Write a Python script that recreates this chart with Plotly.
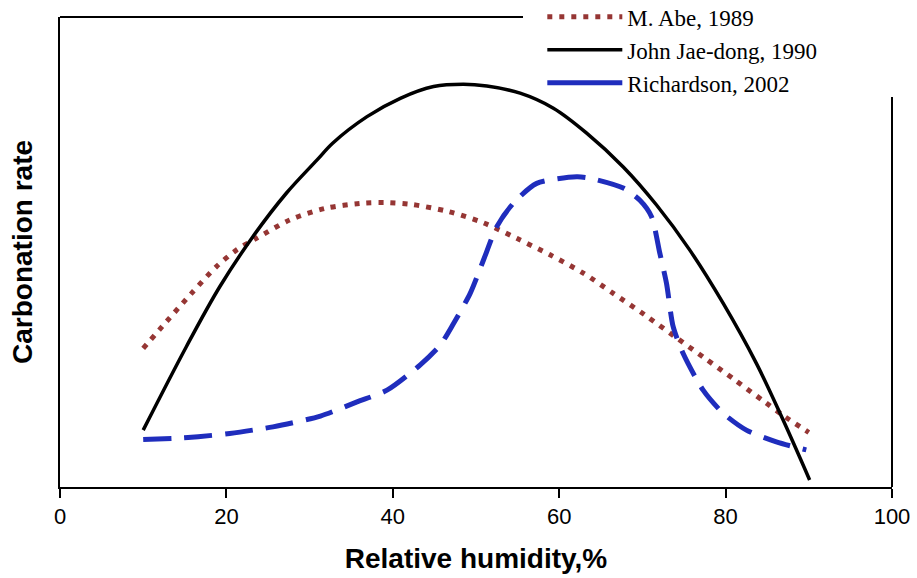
import plotly.graph_objects as go

# Relative humidity (%) and carbonation rate (relative units, 0-100)
abe_x = [10, 12.8, 15.8, 18.8, 21.2, 23.6, 27.6, 31.9, 36.5, 39.3, 42.3, 46.7, 50.9, 54.9,
         58.9, 62.9, 66.5, 70.3, 73.9, 77.5, 81.1, 84.7, 87.1, 90]
abe_y = [29.5, 35.2, 41.2, 46.9, 50.4, 52.9, 56.8, 59.3, 60.4, 60.5, 60.1, 58.6, 56.2, 52.9,
         49.4, 45.5, 41.2, 36.6, 32.0, 27.4, 22.8, 18.1, 15.0, 11.6]

john_x = [10, 15.2, 19.2, 23.2, 27.2, 30.9, 32.8, 36.9, 40.9, 44.9, 48.5, 51.3, 55.3, 59.3,
          63.3, 67.7, 71.7, 75.7, 79.7, 83.7, 86.9, 90.1]
john_y = [12.1, 29.9, 42.6, 53.3, 62.5, 69.6, 73.2, 78.8, 82.7, 85.2, 85.7, 85.3, 83.8, 80.6,
          75.3, 68.1, 60.0, 50.4, 39.1, 26.3, 14.3, 1.5]

rich_x = [10, 14.2, 16.6, 20.4, 25.6, 31.3, 35.7, 39.3, 43.3, 45.7, 47.3, 49.3, 50.9, 52.5,
          54.5, 57.3, 62.1, 63.7, 67.7, 69.7, 71.1, 72.1, 72.9, 73.7, 74.9, 77.3, 79.7, 82.5,
          86.1, 89.7]
rich_y = [10.1, 10.4, 10.7, 11.4, 12.8, 15.1, 18.1, 20.6, 26.0, 30.2, 34.8, 41.2, 48.3, 55.4,
          60.4, 64.6, 66.0, 65.7, 63.6, 61.0, 57.5, 49.7, 43.3, 34.1, 28.4, 20.6, 15.7, 12.1,
          9.6, 7.9]

x_ticks = [0, 20, 40, 60, 80, 100]

RED = "#963634"
BLUE = "#1f2dbd"

fig = go.Figure()
fig.add_trace(go.Scatter(x=abe_x, y=abe_y, mode="lines", name="M. Abe, 1989",
                         line=dict(color=RED, width=5, dash="5px,7px", shape="spline", smoothing=0.8)))
fig.add_trace(go.Scatter(x=john_x, y=john_y, mode="lines", name="John Jae-dong, 1990",
                         line=dict(color="black", width=3.5, shape="spline", smoothing=1.0)))
fig.add_trace(go.Scatter(x=rich_x, y=rich_y, mode="lines", name="Richardson, 2002", showlegend=False,
                         line=dict(color=BLUE, width=5, dash="28px,13px", shape="spline", smoothing=0.7)))
# legend key for Richardson (drawn solid in the original legend)
fig.add_trace(go.Scatter(x=[None], y=[None], mode="lines", name="Richardson, 2002",
                         line=dict(color=BLUE, width=5)))

fig.update_layout(
    width=917, height=578,
    margin=dict(l=60, r=25, t=17, b=91, autoexpand=False),
    plot_bgcolor="white", paper_bgcolor="white",
    showlegend=True,
    legend=dict(x=0.5797, xanchor="left", y=1.046, yanchor="top",
                bgcolor="rgba(0,0,0,0)",
                font=dict(family="Liberation Serif, Times New Roman, serif", size=23, color="black"),
                itemwidth=75, tracegroupgap=0, itemclick=False),
    xaxis=dict(range=[0, 100], tickvals=x_ticks, ticktext=[str(v) for v in x_ticks], automargin=False,
               showgrid=False, zeroline=False, showline=True, linecolor="black", linewidth=2,
               ticks="outside", ticklen=9, tickwidth=2, tickcolor="black",
               tickfont=dict(family="Liberation Sans, Arial", size=22, color="black"),
               title=dict(text="<b>Relative humidity,%</b>", standoff=20,
                          font=dict(family="Liberation Sans, Arial", size=28, color="black"))),
    yaxis=dict(range=[0, 100], showgrid=False, zeroline=False, showticklabels=False, ticks="",
               automargin=False, showline=True, linecolor="black", linewidth=2),
    annotations=[
        dict(text="<b>Carbonation rate</b>", xref="paper", yref="paper", x=-0.0457, y=0.5,
             xanchor="center", yanchor="middle", textangle=-90, showarrow=False,
             font=dict(family="Liberation Sans, Arial", size=28, color="black")),
    ],
    shapes=[
        dict(type="line", xref="paper", yref="paper", x0=0, x1=0.5565, y0=1, y1=1,
             line=dict(color="black", width=2)),
        dict(type="line", xref="paper", yref="paper", x0=1, x1=1, y0=0, y1=0.83,
             line=dict(color="black", width=2)),
    ],
)

fig.write_html("out.html", config={"displayModeBar": False},
               post_script="document.body.style.margin='0px';")
